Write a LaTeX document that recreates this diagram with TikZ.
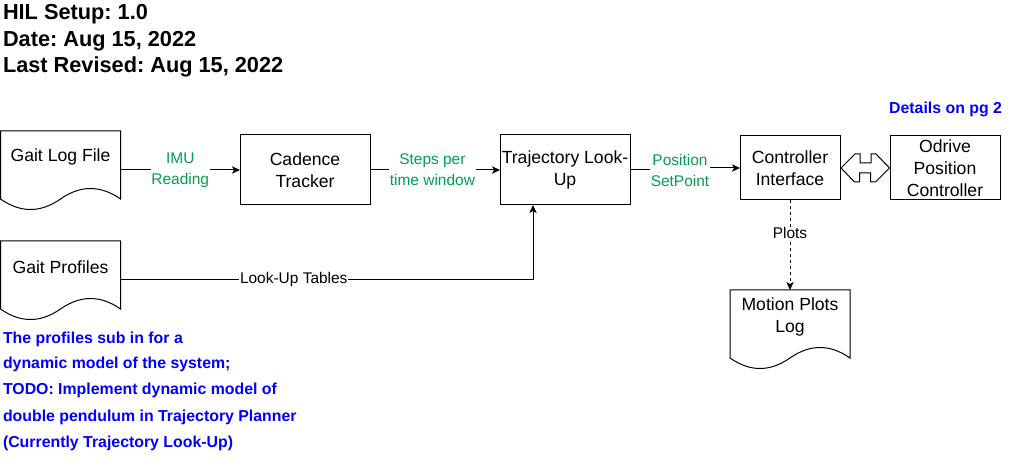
\documentclass[tikz,border=0pt]{standalone}
\usepackage{fontspec}
\setmainfont{Liberation Sans}
\usetikzlibrary{calc,arrows.meta}
\definecolor{lblgreen}{RGB}{0,160,80}
\definecolor{noteblue}{RGB}{0,0,255}
\frenchspacing
\newcommand\docoutline[1]{%
  \draw[line width=0.75pt] (#1.north west) -- (#1.north east) -- (#1.south east)
    .. controls ($(#1.south east)+(-20,-14)$) and ($(#1.south)+(20,-14)$) .. (#1.south)
    .. controls ($(#1.south)+(-20,14)$) and ($(#1.south west)+(20,14)$) .. (#1.south west)
    -- cycle;}
\begin{document}
\begin{tikzpicture}[x=0.75pt,y=-0.75pt,
  every node/.style={inner sep=0pt,outer sep=0pt},
  boxtxt/.style={font=\fontsize{13.2}{16.5}\selectfont,align=center},
  procbox/.style={boxtxt,draw,line width=0.75pt,fill=white},
  docnode/.style={minimum width=90pt,minimum height=51pt},
  glbl/.style={font=\fontsize{11.6}{15.75}\selectfont,align=center,text=lblgreen,fill=white,inner sep=0.6pt},
  klbl/.style={font=\fontsize{11.6}{15.75}\selectfont,align=center,fill=white,inner sep=0.6pt},
  ttl/.style={font=\fontsize{16.3}{19.5}\selectfont\bfseries,anchor=base west},
  note/.style={font=\fontsize{11.9}{19.5}\selectfont\bfseries,text=noteblue,anchor=base west},
  arr/.style={line width=0.75pt,-{Stealth[length=6pt,width=5.5pt,inset=1.5pt]}},
  darr/.style={arr,dash pattern=on 2.25pt off 2.25pt}]
\useasboundingbox (0,0) rectangle (1011,466);

% titles
\node[ttl] (t1) at (3,20) {HIL Setup: 1.0};
\node[ttl] (t2) at (3,46.7) {Date: Aug 15, 2022};
\node[ttl] (t3) at (3,72.7) {Last Revised: Aug 15, 2022};

% document shapes
\node[docnode] (glog) at (60.5,165) {};
\docoutline{glog}
\node[boxtxt] (glogt) at (60.5,157) {Gait Log File};
\node[docnode] (gprof) at (60.5,275) {};
\docoutline{gprof}
\node[boxtxt] (gproft) at (60.5,267) {Gait Profiles};
\node[docnode] (mlog) at (790,324) {};
\docoutline{mlog}
\node[boxtxt] (mlogt) at (790,317) {Motion Plots\\Log};

% process boxes
\node[procbox,minimum width=97.5pt,minimum height=52.5pt] (cad) at (305,170) {Cadence\\Tracker};
\node[procbox,minimum width=97.5pt,minimum height=52.5pt] (traj) at (565,170) {Trajectory Look-\\Up};
\node[procbox,minimum width=75pt,minimum height=48pt] (ctrl) at (790,168) {Controller\\Interface};
\node[procbox,minimum width=82.5pt,minimum height=48pt] (odr) at (945,168) {Odrive\\Position\\Controller};

% connectors
\draw[arr] (glog.east |- cad.west) -- node[glbl] {IMU\\Reading} (cad.west);
\draw[arr] (cad.east) -- node[glbl,pos=0.48] {Steps per\\time window} (traj.west);
\draw[arr] (traj.east) -- ++(50,0) node[glbl] {Position\\SetPoint} |- (ctrl.west);
\draw[arr] ($(gprof.east)+(0,5)$) -| node[klbl,pos=0.21] {Look-Up Tables} ($(traj.south west)+(33,0)$);
\draw[darr] (ctrl.south) -- node[klbl,pos=0.37] {Plots} (mlog.north);

% interface double arrow
\draw[line width=0.75pt,fill=white] ($(ctrl.east)+(1,0)$) -- ++(14,-14) -- ++(5,0) -- ++(0,9) -- ++(11,0) -- ++(0,-9) -- ++(5,0)
  -- ($(odr.west)+(-0.5,0)$) -- ++(-14,14) -- ++(-5,0) -- ++(0,-9) -- ++(-11,0) -- ++(0,9) -- ++(-5,0) -- cycle;

% notes
\node[font=\fontsize{11.9}{19.5}\selectfont\bfseries,text=noteblue,anchor=base east] (det) at (1002,114) {Details on pg 2};
\node[note] (n1) at (3,343.3) {The profiles sub in for a};
\node[note] (n2) at (3,368.5) {dynamic model of the system;};
\node[note] (n3) at (3,395) {TODO: Implement dynamic model of};
\node[note] (n4) at (3,421.5) {double pendulum in Trajectory Planner};
\node[note] (n5) at (3,448) {(Currently Trajectory Look-Up)};
\end{tikzpicture}
\end{document}
